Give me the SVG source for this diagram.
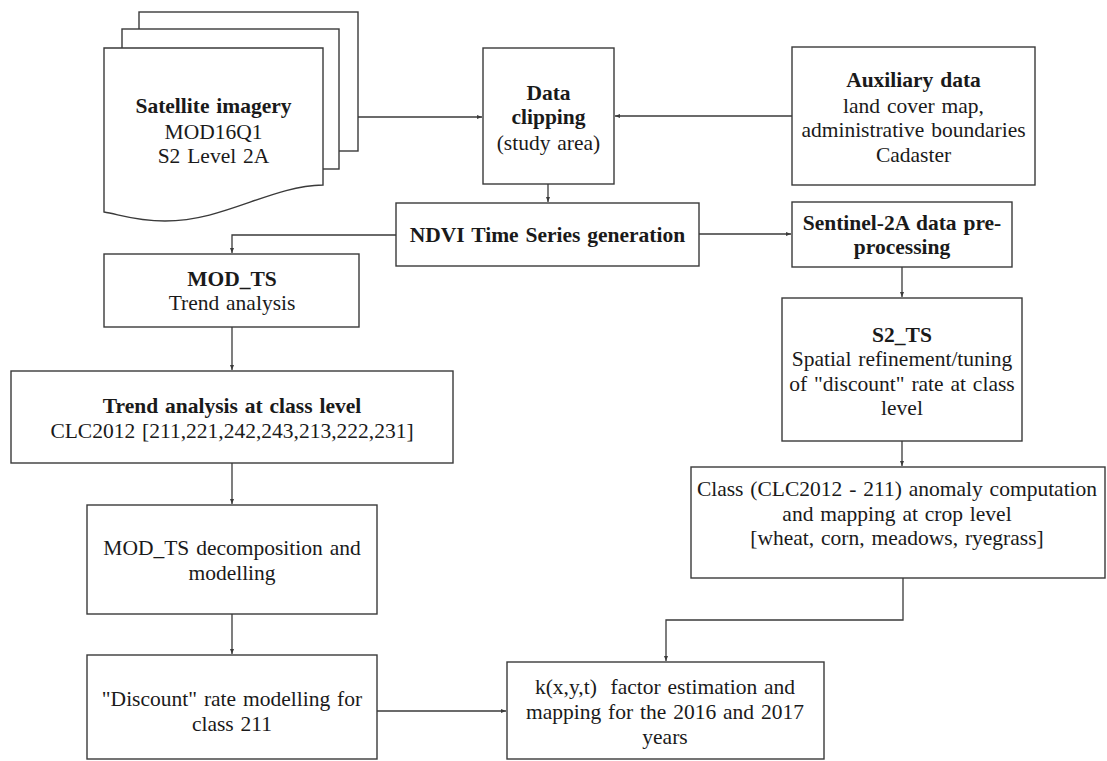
<svg xmlns="http://www.w3.org/2000/svg" width="1107" height="761" viewBox="0 0 1107 761">
<defs>
<style>
.box{fill:#fff;stroke:#3a3a3a;stroke-width:1.4}
.t{font-family:"Liberation Serif","Times New Roman",serif;font-size:21.5px;word-spacing:1.5px;fill:#1a1a1a;text-anchor:middle}
.b{font-weight:bold}
.c{fill:none;stroke:#3a3a3a;stroke-width:1.3}
</style>
<marker id="ah" viewBox="0 0 10 10" refX="10" refY="5" markerWidth="5" markerHeight="5" markerUnits="userSpaceOnUse" orient="auto">
<path d="M0,1 L10,5 L0,9 Z" fill="#3a3a3a"/>
</marker>
</defs>
<rect width="1107" height="761" fill="#fff"/>
<g id="connectors">
<path class="c" d="M358,117 H482" marker-end="url(#ah)"/>
<path class="c" d="M792,116 H615" marker-end="url(#ah)"/>
<path class="c" d="M548,184 V202" marker-end="url(#ah)"/>
<path class="c" d="M699,234 H791" marker-end="url(#ah)"/>
<path class="c" d="M396,235 H232 V253" marker-end="url(#ah)"/>
<path class="c" d="M902,267 V297" marker-end="url(#ah)"/>
<path class="c" d="M232,327 V370" marker-end="url(#ah)"/>
<path class="c" d="M902,441 V466" marker-end="url(#ah)"/>
<path class="c" d="M232,463 V504" marker-end="url(#ah)"/>
<path class="c" d="M232,614 V654" marker-end="url(#ah)"/>
<path class="c" d="M903,578 V620 H666 V661" marker-end="url(#ah)"/>
<path class="c" d="M377,711 H506" marker-end="url(#ah)"/>
</g>
<g id="satellite">
<rect class="box" x="139" y="12" width="219" height="139"/>
<rect class="box" x="122" y="29" width="217" height="140"/>
<path class="box" d="M104,48 H323 V185 C270,186 225,221 165,221 C135,221 118,214 104,212 Z"/>
<text class="t b" x="213.5" y="113">Satellite imagery</text>
<text class="t" x="213.5" y="139">MOD16Q1</text>
<text class="t" x="213.5" y="163">S2 Level 2A</text>
</g>
<g id="clipping">
<rect class="box" x="483" y="48" width="131" height="136"/>
<text class="t b" x="548.5" y="100">Data</text>
<text class="t b" x="548.5" y="124">clipping</text>
<text class="t" x="548.5" y="150">(study area)</text>
</g>
<g id="auxiliary">
<rect class="box" x="792" y="47" width="243" height="138"/>
<text class="t b" x="913.5" y="87">Auxiliary data</text>
<text class="t" x="913.5" y="113">land cover map,</text>
<text class="t" x="913.5" y="137">administrative boundaries</text>
<text class="t" x="913.5" y="162">Cadaster</text>
</g>
<g id="ndvi">
<rect class="box" x="396" y="203" width="303" height="63"/>
<text class="t b" x="547.5" y="242">NDVI Time Series generation</text>
</g>
<g id="sentinel">
<rect class="box" x="792" y="202" width="220" height="65"/>
<text class="t b" x="902" y="230">Sentinel-2A data pre-</text>
<text class="t b" x="902" y="254">processing</text>
</g>
<g id="modts">
<rect class="box" x="104" y="254" width="255" height="73"/>
<text class="t b" x="232" y="286">MOD_TS</text>
<text class="t" x="232" y="310">Trend analysis</text>
</g>
<g id="trend">
<rect class="box" x="11" y="371" width="442" height="92"/>
<text class="t b" x="232" y="413">Trend analysis at class level</text>
<text class="t" x="232" y="438">CLC2012 [211,221,242,243,213,222,231]</text>
</g>
<g id="s2ts">
<rect class="box" x="782" y="298" width="240" height="143"/>
<text class="t b" x="902" y="342">S2_TS</text>
<text class="t" x="902" y="366">Spatial refinement/tuning</text>
<text class="t" x="902" y="391">of "discount" rate at class</text>
<text class="t" x="902" y="415">level</text>
</g>
<g id="classanomaly">
<rect class="box" x="691" y="467" width="414" height="111"/>
<text class="t" x="897" y="496">Class (CLC2012 - 211) anomaly computation</text>
<text class="t" x="897" y="521">and mapping at crop level</text>
<text class="t" x="897" y="545">[wheat, corn, meadows, ryegrass]</text>
</g>
<g id="decomposition">
<rect class="box" x="87" y="505" width="290" height="109"/>
<text class="t" x="232" y="555">MOD_TS decomposition and</text>
<text class="t" x="232" y="580">modelling</text>
</g>
<g id="discount">
<rect class="box" x="87" y="655" width="290" height="104"/>
<text class="t" x="232" y="706">"Discount" rate modelling for</text>
<text class="t" x="232" y="731">class 211</text>
</g>
<g id="kfactor">
<rect class="box" x="507" y="662" width="317" height="97"/>
<text class="t" x="665" y="694">k(x,y,t)&#160; factor estimation and</text>
<text class="t" x="665" y="719">mapping for the 2016 and 2017</text>
<text class="t" x="665" y="744">years</text>
</g>
</svg>
